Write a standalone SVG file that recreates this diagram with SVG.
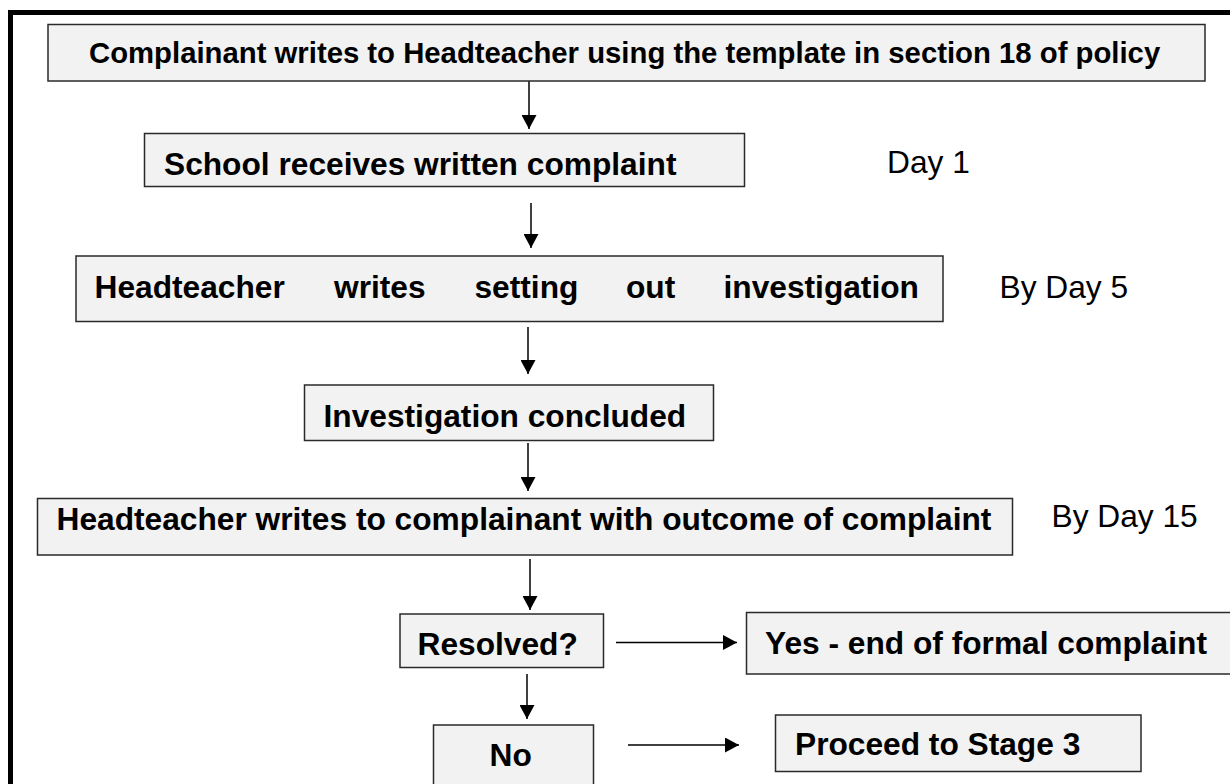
<svg xmlns="http://www.w3.org/2000/svg" width="1230" height="784" viewBox="0 0 1230 784">
<style>
.box{fill:#f2f2f2;stroke:#2a2a2a;stroke-width:1.5}
.t{font-family:"Liberation Sans",Arial,sans-serif;font-weight:bold;font-size:31.7px;fill:#000}
.d{font-family:"Liberation Sans",Arial,sans-serif;font-size:31.7px;fill:#000}
.c{stroke:#000;stroke-width:1.5;fill:none;marker-end:url(#ah)}
</style>
<defs>
<marker id="ah" viewBox="0 0 14 15" refX="14" refY="7.5" markerWidth="14" markerHeight="15" markerUnits="userSpaceOnUse" orient="auto">
<path d="M0,0 L14,7.5 L0,15 z" fill="#000"/>
</marker>
</defs>
<rect width="1230" height="784" fill="#fff"/>
<rect id="frame" x="10.5" y="12.5" width="1240" height="800" fill="none" stroke="#000" stroke-width="5"/>
<g id="connectors">
<line class="c" x1="529" y1="81" x2="529" y2="129"/>
<line class="c" x1="531" y1="203" x2="531" y2="248"/>
<line class="c" x1="528" y1="327" x2="528" y2="374"/>
<line class="c" x1="528" y1="443" x2="528" y2="491"/>
<line class="c" x1="530" y1="559" x2="530" y2="610"/>
<line class="c" x1="527" y1="674" x2="527" y2="719"/>
<line class="c" x1="616" y1="642.5" x2="737" y2="642.5"/>
<line class="c" x1="628" y1="745" x2="739" y2="745"/>
</g>
<g id="n1"><rect class="box" x="48" y="24.5" width="1157" height="56.5"/><text class="t" x="89" y="63" style="font-size:29.3px">Complainant writes to Headteacher using the template in section 18 of policy</text></g>
<g id="n2"><rect class="box" x="144.5" y="133.5" width="600" height="53"/><text class="t" x="164" y="174.5">School receives written complaint</text></g>
<g id="l1"><text class="d" x="887" y="173">Day 1</text></g>
<g id="n3"><rect class="box" x="76" y="256" width="867" height="65.5"/><text class="t" y="297.5"><tspan x="94.5">Headteacher</tspan><tspan x="334">writes</tspan><tspan x="474.5">setting</tspan><tspan x="626">out</tspan><tspan x="723.5">investigation</tspan></text></g>
<g id="l2"><text class="d" x="999.5" y="297.5">By Day 5</text></g>
<g id="n4"><rect class="box" x="304.5" y="385" width="409" height="55.5"/><text class="t" x="323.5" y="426.5">Investigation concluded</text></g>
<g id="n5"><rect class="box" x="37.5" y="498.5" width="975" height="56.5"/><text class="t" x="56.5" y="530">Headteacher writes to complainant with outcome of complaint</text></g>
<g id="l3"><text class="d" x="1051.5" y="526.5">By Day 15</text></g>
<g id="n6"><rect class="box" x="400" y="614" width="203.5" height="53.5"/><text class="t" x="417.5" y="654.5">Resolved?</text></g>
<g id="n7"><rect class="box" x="746.5" y="612.5" width="490" height="61.5"/><text class="t" x="765" y="653.5">Yes - end of formal complaint</text></g>
<g id="n8"><rect class="box" x="433.5" y="725" width="160" height="70"/><text class="t" x="489.5" y="766">No</text></g>
<g id="n9"><rect class="box" x="775.5" y="715" width="365.5" height="56.5"/><text class="t" x="795" y="755">Proceed to Stage 3</text></g>
</svg>
